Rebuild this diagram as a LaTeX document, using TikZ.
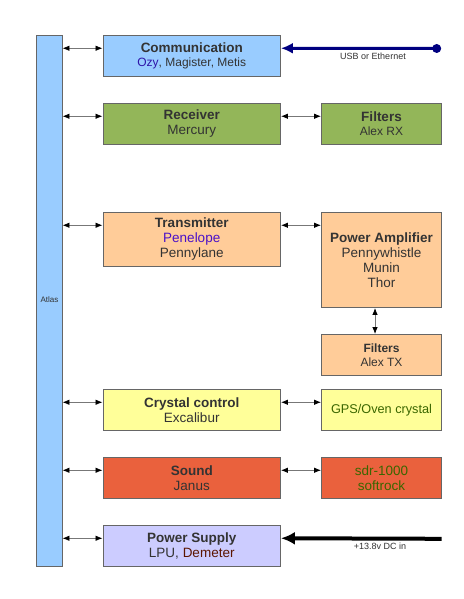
\documentclass[tikz,border=0pt]{standalone}
\usepackage{fontspec}
\setmainfont{Liberation Sans}
\usetikzlibrary{arrows.meta}
\definecolor{txtgray}{HTML}{333333}
\definecolor{bordergray}{HTML}{666666}
\definecolor{linegray}{HTML}{777777}
\definecolor{cblue}{HTML}{99CCFF}
\definecolor{cgreen}{HTML}{93B659}
\definecolor{corange}{HTML}{FFCC99}
\definecolor{cyellow}{HTML}{FFFF99}
\definecolor{cred}{HTML}{EA613D}
\definecolor{cviolet}{HTML}{CCCCFF}
\definecolor{ozyc}{HTML}{2E14A8}
\definecolor{penc}{HTML}{4A10C8}
\definecolor{dgreen}{HTML}{3A6600}
\definecolor{demc}{HTML}{5C1500}
\definecolor{navyc}{HTML}{000080}
\tikzset{
  blockbox/.style={draw=bordergray, line width=0.9pt, inner sep=0pt, align=center,
    text=txtgray, font=\fontsize{13.5}{15}\selectfont},
  leftbox/.style={blockbox, minimum width=177.5pt},
  rightbox/.style={blockbox, minimum width=120pt},
  dbl/.style={draw=linegray, line width=0.8pt,
    {Latex[length=7pt,width=5.5pt,color=black]}-{Latex[length=7pt,width=5.5pt,color=black]}},
  smalllabel/.style={text=txtgray, font=\fontsize{9}{10}\selectfont, inner sep=0pt}
}
\newcommand{\ttl}[1]{{\fontsize{13.5}{15}\selectfont\bfseries #1}}
\begin{document}
\begin{tikzpicture}[x=1pt,y=-1pt]
\useasboundingbox (0,0) rectangle (463,599);
\fill[white] (0,0) rectangle (463,599);
% Atlas bar
\node[blockbox, fill=cblue, minimum width=26pt, minimum height=530.5pt] (atlas) at (49,300.75) {};
\node[text=txtgray, font=\fontsize{8}{9}\selectfont, inner sep=0pt] (atlaslbl) at (49.5,300) {Atlas};
% left column
\node[leftbox, fill=cblue, minimum height=40.5pt, font=\fontsize{12}{14.6}\selectfont] (comm) at (191.75,55.75)
  {\ttl{Communication}\\{\color{ozyc}Ozy}, Magister, Metis};
\node[leftbox, fill=cgreen, minimum height=40.5pt] (recv) at (191.75,123.75)
  {\ttl{Receiver}\\Mercury};
\node[leftbox, fill=corange, minimum height=54pt] (tx) at (191.75,239.5)
  {\ttl{Transmitter}\\{\color{penc}Penelope}\\Pennylane};
\node[leftbox, fill=cyellow, minimum height=40.5pt] (crys) at (191.75,409.75)
  {\ttl{Crystal control}\\Excalibur};
\node[leftbox, fill=cred, minimum height=41pt] (sound) at (191.75,478)
  {\ttl{Sound}\\Janus};
\node[leftbox, fill=cviolet, minimum height=40.5pt] (psu) at (191.75,545.75)
  {\ttl{Power Supply}\\LPU, {\color{demc}Demeter}};
% right column
\node[rightbox, fill=cgreen, minimum height=40.5pt, font=\fontsize{12}{14.8}\selectfont] (frx) at (381.5,123.75)
  {\ttl{Filters}\\Alex RX};
\node[rightbox, fill=corange, minimum height=95pt] (pa) at (381.5,260)
  {\ttl{Power Amplifier}\\Pennywhistle\\Munin\\Thor};
\node[rightbox, fill=corange, minimum height=41pt, font=\fontsize{12}{14}\selectfont] (ftx) at (381.5,355)
  {{\bfseries Filters}\\Alex TX};
\node[rightbox, fill=cyellow, minimum height=40.5pt, text=dgreen, font=\fontsize{12.7}{15}\selectfont] (gps) at (381.5,409.75)
  {GPS/Oven crystal};
\node[rightbox, fill=cred, minimum height=41pt, text=dgreen] (sdr) at (381.5,478)
  {sdr-1000\\softrock};
% arrow rows
\coordinate (r1) at ([yshift=-13.2pt]comm.north west);
\coordinate (r2) at ([yshift=-13.2pt]recv.north west);
\coordinate (r3) at ([yshift=-13.2pt]tx.north west);
\coordinate (r4) at ([yshift=-13.2pt]crys.north west);
\coordinate (r5) at ([yshift=-13.2pt]sound.north west);
\coordinate (r6) at ([yshift=-13.2pt]psu.north west);
\draw[dbl] (r1 -| atlas.east) -- (r1);
\draw[dbl] (r2 -| atlas.east) -- (r2);
\draw[dbl] (r3 -| atlas.east) -- (r3);
\draw[dbl] (r4 -| atlas.east) -- (r4);
\draw[dbl] (r5 -| atlas.east) -- (r5);
\draw[dbl] (r6 -| atlas.east) -- (r6);
\draw[dbl] (r2 -| recv.east) -- (r2 -| frx.west);
\draw[dbl] (r3 -| tx.east) -- (r3 -| pa.west);
\draw[dbl] (r4 -| crys.east) -- (r4 -| gps.west);
\draw[dbl] (r5 -| sound.east) -- (r5 -| sdr.west);
\draw[dbl] ([xshift=-6.5pt]pa.south) -- ([xshift=-6.5pt]ftx.north);
% USB
\node[circle, fill=navyc, inner sep=0pt, minimum size=9pt] (usbdot) at (436.7,48.5) {};
\draw[navyc, line width=3pt, -{Latex[length=12pt,width=11pt]}] (usbdot.center) -- (r1 -| comm.east);
\node[smalllabel] (usblbl) at (373,56.5) {USB or Ethernet};
% DC in
\coordinate (dcin) at (441.5,538.8);
\draw[black, line width=4pt, -{Latex[length=14pt,width=13pt]}] (dcin) -- (r6 -| psu.east);
\node[smalllabel] (dclbl) at (380,546.5) {+13.8v DC in};
\end{tikzpicture}
\end{document}
